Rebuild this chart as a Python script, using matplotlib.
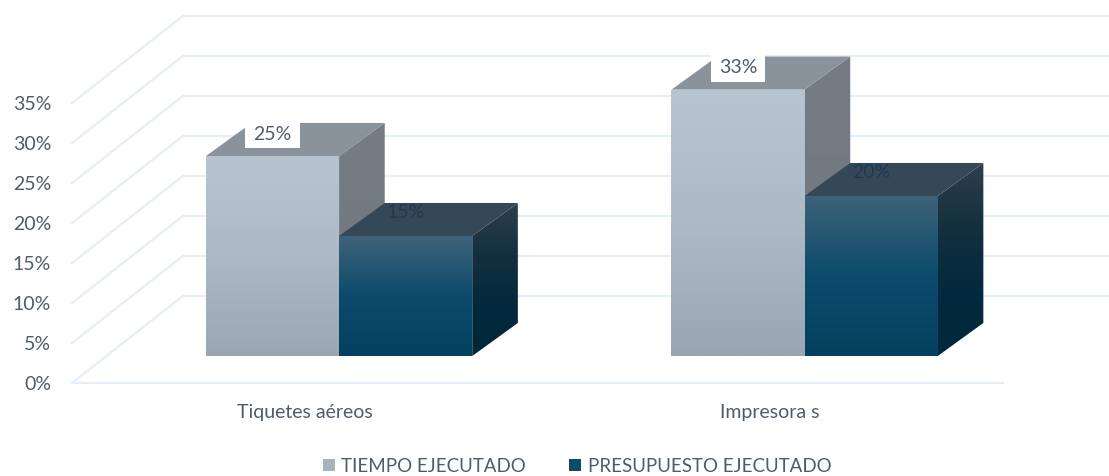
import numpy as np
import matplotlib.pyplot as plt
from matplotlib.colors import LinearSegmentedColormap
from matplotlib.patches import Patch, Polygon, Rectangle

categories = ["Tiquetes aéreos", "Impresora s"]
tiempo = [25, 33.3]
presupuesto = [15, 20]
tiempo_labels = ["25%", "33%"]
presupuesto_labels = ["15%", "20%"]
y_ticks = [0, 5, 10, 15, 20, 25, 30, 35]
y_tick_labels = ["0%", "5%", "10%", "15%", "20%", "25%", "30%", "35%"]
series_names = ["TIEMPO EJECUTADO", "PRESUPUESTO EJECUTADO"]

TEXT = "#4d5c6b"
GRID = "#e6eef9"
BAR_W = 0.286
# oblique projection of the floor, in data units
DX = 0.238
DY = 10.875
NEAR = 0.31
FAR = 0.69
BAR_DX = 0.098

LIGHT = {
    "front": ["#b8c4cf", "#adb9c5", "#9aa6b2"],
    "top": "#8a939b",
    "side": ["#757c84", "#70767d"],
}
DARK = {
    "front": ["#3f6279", "#0c4b6c", "#03415f"],
    "top": "#344858",
    "side": ["#2e3f4c", "#14303f", "#02293d", "#01273a"],
}


def gradient(ax, pts, colors):
    pts = np.array(pts)
    cmap = LinearSegmentedColormap.from_list("g", colors)
    img = ax.imshow(
        np.linspace(0, 1, 256).reshape(-1, 1),
        cmap=cmap,
        aspect="auto",
        origin="upper",
        extent=(pts[:, 0].min(), pts[:, 0].max(), pts[:, 1].min(), pts[:, 1].max()),
        zorder=3,
        interpolation="bilinear",
    )
    clip = Polygon(pts, closed=True, transform=ax.transData)
    img.set_clip_box(ax.figure.bbox)
    img.set_clip_path(clip)


def draw_bar(ax, x, value, style):
    base = NEAR * DY
    top = base + value
    fx0 = x + NEAR * DX
    fx1 = fx0 + BAR_W
    bx0, bx1 = fx0 + BAR_DX, fx1 + BAR_DX
    shift = (FAR - NEAR) * DY
    gradient(ax, [(fx0, base), (fx1, base), (fx1, top), (fx0, top)], style["front"])
    gradient(ax, [(fx1, base), (bx1, base + shift), (bx1, top + shift), (fx1, top)], style["side"])
    ax.add_patch(Polygon([(fx0, top), (fx1, top), (bx1, top + shift), (bx0, top + shift)],
                         closed=True, facecolor=style["top"], edgecolor="none",
                         zorder=3, clip_on=False))
    return (fx0 + fx1) / 2, top


def main():
    plt.rcParams["font.family"] = ["Lato", "DejaVu Sans"]
    fig = plt.figure(figsize=(11.09, 4.76), dpi=100, facecolor="white")
    ax = fig.add_axes([72 / 1109, 93 / 476, 931 / 1109, 280 / 476])

    xpos = np.arange(len(categories))

    # walls and floor
    for t in y_ticks:
        ax.plot([-0.5, -0.5 + DX, 1.5 + DX], [t, t + DY, t + DY],
                color=GRID, lw=1.6, clip_on=False, zorder=1)
    ax.plot([-0.5, 1.5], [0, 0], color=GRID, lw=1.6, clip_on=False, zorder=1)

    for i, x in enumerate(xpos):
        cx, top = draw_bar(ax, x - BAR_W, tiempo[i], LIGHT)
        ax.add_patch(Rectangle((cx - 0.059, top + 1.0), 0.118, 3.3, facecolor="white",
                               edgecolor="none", zorder=4, clip_on=False))
        ax.text(cx, top + 2.75, tiempo_labels[i], ha="center", va="center",
                fontsize=14, color=TEXT, zorder=5)
        cx, top = draw_bar(ax, x, presupuesto[i], DARK)
        ax.text(cx, top + 2.9, presupuesto_labels[i], ha="center", va="center",
                fontsize=14, color="#1f3a50", zorder=5)

    ax.set_xlim(-0.5, 1.5)
    ax.set_ylim(0, 35)
    ax.set_xticks(xpos)
    ax.set_xticklabels(categories, fontsize=14, color=TEXT)
    ax.set_yticks(y_ticks)
    ax.set_yticklabels(y_tick_labels, fontsize=14, color=TEXT)
    ax.tick_params(axis="x", length=0, pad=15)
    ax.tick_params(axis="y", length=0, pad=15)
    for s in ax.spines.values():
        s.set_visible(False)
    ax.patch.set_alpha(0)

    handles = [Patch(facecolor="#a7b3bf", edgecolor="none"),
               Patch(facecolor="#0d4a6b", edgecolor="none")]
    fig.legend(handles, series_names, loc="center", bbox_to_anchor=(577 / 1109, 10 / 476),
               ncol=2, frameon=False, fontsize=13.5, labelcolor=TEXT,
               handlelength=0.65, handleheight=0.65, handletextpad=0.35, columnspacing=2.3)

    fig.savefig("out.png", dpi=100, facecolor="white")


if __name__ == "__main__":
    main()
